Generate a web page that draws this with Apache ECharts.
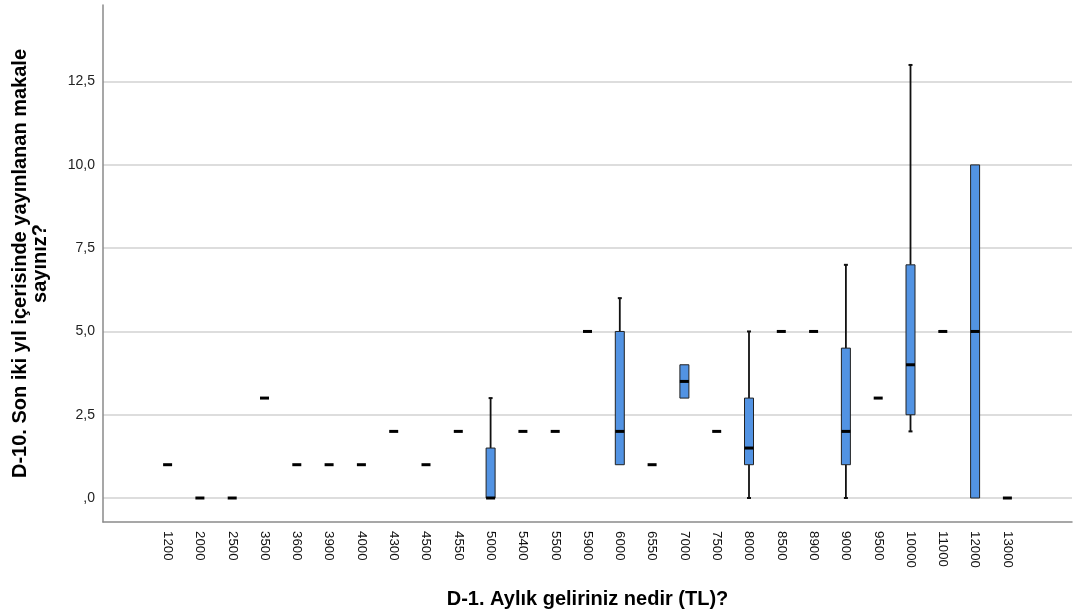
<!DOCTYPE html>
<html>
<head>
<meta charset="utf-8">
<script src="https://cdn.jsdelivr.net/npm/echarts@6/dist/echarts.min.js"></script>
<style>
html,body{margin:0;padding:0;background:#fff;}
#c{width:1076px;height:614px;}
</style>
</head>
<body>
<div id="c"></div>
<script>
// Categories (monthly income, TL)
const categories = ['1200','2000','2500','3500','3600','3900','4000','4300','4500','4550','5000','5400','5500','5900','6000','6550','7000','7500','8000','8500','8900','9000','9500','10000','11000','12000','13000'];
// Box statistics per category
const mins    = [1,0,0,3,1,1,1,2,1,2,0,  2,2,5,1,1,3,  2,0,  5,5,0,  3,2,  5,0, 0];
const q1s     = [1,0,0,3,1,1,1,2,1,2,0,  2,2,5,1,1,3,  2,1,  5,5,1,  3,2.5,5,0, 0];
const medians = [1,0,0,3,1,1,1,2,1,2,0,  2,2,5,2,1,3.5,2,1.5,5,5,2,  3,4,  5,5, 0];
const q3s     = [1,0,0,3,1,1,1,2,1,2,1.5,2,2,5,5,1,4,  2,3,  5,5,4.5,3,7,  5,10,0];
const maxs    = [1,0,0,3,1,1,1,2,1,2,3,  2,2,5,6,1,4,  2,5,  5,5,7,  3,13, 5,10,0];
// Y tick labels
const yTicks = [0, 2.5, 5, 7.5, 10, 12.5];

const padL = ['', ' '];
const padR = ['  ', '   '];
const axisCats = padL.concat(categories, padR);
const boxData = categories.map((c, i) => [i + padL.length, mins[i], q1s[i], medians[i], q3s[i], maxs[i]]);

const chart = echarts.init(document.getElementById('c'), null, {renderer: 'canvas'});
const BOX = '#5293e3';

chart.setOption({
  animation: false,
  backgroundColor: '#ffffff',
  grid: {left: 103, right: 4, top: 5, bottom: 92, containLabel: false, outerBoundsMode: 'none'},
  xAxis: {
    type: 'category',
    data: axisCats,
    boundaryGap: false,
    name: 'D-1. Aylık geliriniz nedir (TL)?',
    nameLocation: 'middle',
    nameGap: 67,
    nameTextStyle: {fontFamily: 'Liberation Sans', fontWeight: 'bold', fontSize: 20, color: '#000'},
    axisLine: {show: true, onZero: false, lineStyle: {color: '#8a8a8a', width: 1.5}},
    axisTick: {show: false},
    splitLine: {show: false},
    axisLabel: {interval: 0, rotate: -90, margin: 9, fontFamily: 'Liberation Sans', fontSize: 13.3, color: '#111'}
  },
  yAxis: {
    type: 'value',
    min: -0.72,
    max: 14.8,
    name: 'D-10. Son iki yıl içerisinde yayınlanan makale\nsayınız?',
    nameLocation: 'middle',
    nameGap: 53,
    nameRotate: 90,
    nameTextStyle: {fontFamily: 'Liberation Sans', fontWeight: 'bold', fontSize: 20, color: '#000', lineHeight: 20, align: 'center'},
    axisLine: {show: true, onZero: false, lineStyle: {color: '#8a8a8a', width: 1.5}},
    axisTick: {show: false, customValues: yTicks},
    splitLine: {show: true, lineStyle: {color: '#d2d2d2', width: 1.5}},
    axisLabel: {
      customValues: yTicks,
      margin: 8,
      fontFamily: 'Liberation Sans', fontSize: 14, color: '#222',
      formatter: v => v === 0 ? ',0' : v.toFixed(1).replace('.', ',')
    }
  },
  series: [{
    type: 'custom',
    data: boxData,
    encode: {x: 0, y: [1, 2, 3, 4, 5]},
    renderItem: function (params, api) {
      const x = api.value(0);
      const mn = api.value(1), q1 = api.value(2), md = api.value(3), q3 = api.value(4), mx = api.value(5);
      const cx = api.coord([x, md])[0];
      const y = v => api.coord([x, v])[1];
      const bw = 9;
      const children = [];
      const ln = {stroke: '#111', lineWidth: 1.8};
      if (mx > q3) {
        children.push({type: 'line', shape: {x1: cx, y1: y(q3), x2: cx, y2: y(mx)}, style: ln});
        children.push({type: 'line', shape: {x1: cx - 2, y1: y(mx), x2: cx + 2, y2: y(mx)}, style: {stroke: '#111', lineWidth: 2}});
      }
      if (mn < q1) {
        children.push({type: 'line', shape: {x1: cx, y1: y(q1), x2: cx, y2: y(mn)}, style: ln});
        children.push({type: 'line', shape: {x1: cx - 2, y1: y(mn), x2: cx + 2, y2: y(mn)}, style: {stroke: '#111', lineWidth: 2}});
      }
      if (q3 > q1) {
        children.push({type: 'rect', shape: {x: cx - bw / 2, y: y(q3), width: bw, height: y(q1) - y(q3)},
          style: {fill: BOX, stroke: '#222', lineWidth: 1}});
      }
      children.push({type: 'rect', shape: {x: cx - bw / 2, y: y(md) - 1.5, width: bw, height: 3},
        style: {fill: '#000'}});
      return {type: 'group', children: children};
    }
  }]
});
</script>
</body>
</html>
